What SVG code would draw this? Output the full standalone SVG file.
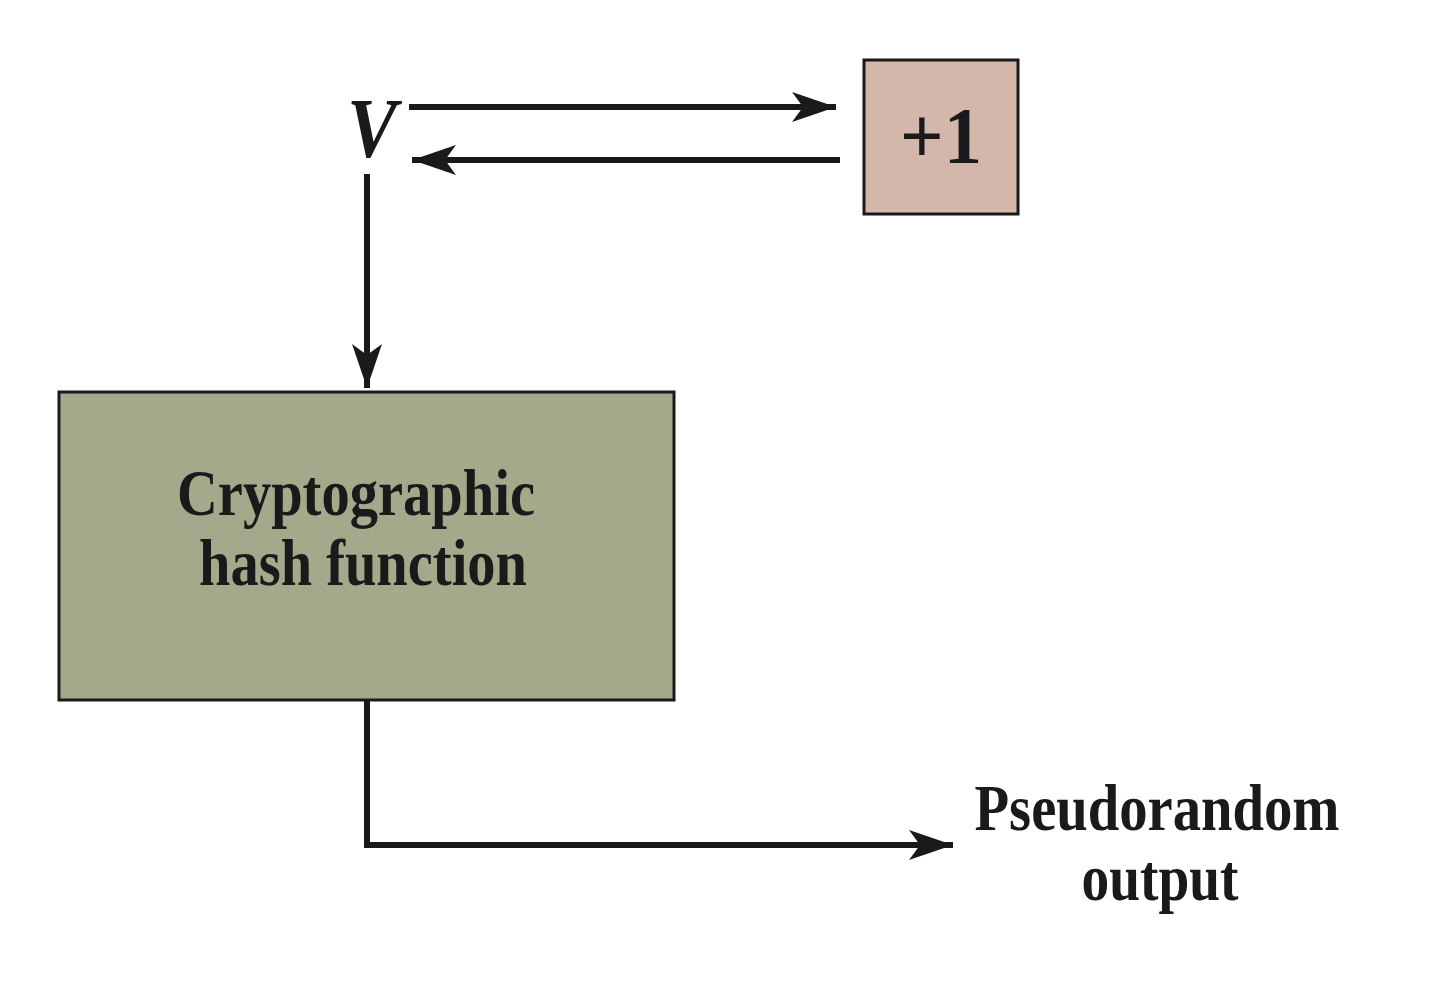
<svg xmlns="http://www.w3.org/2000/svg" width="1440" height="982" viewBox="0 0 1440 982">
<style>
.line{fill:none;stroke:#1a1a1a;stroke-width:6}
.box{stroke:#1a1a1a;stroke-width:3}
.t{font-family:"Liberation Serif","Times New Roman",serif;font-weight:bold;fill:#1a1a1a;text-anchor:middle}
</style>
<defs>
<marker id="ah" markerUnits="userSpaceOnUse" markerWidth="50" markerHeight="40" viewBox="-44 -20 50 40" refX="0" refY="0" orient="auto">
<path d="M0,0 L-44,-15 L-33,0 L-44,15 Z" fill="#1a1a1a"/>
</marker>
</defs>
<rect width="1440" height="982" fill="#ffffff"/>
<g id="connectors">
<path class="line" d="M409,107 L836,107" marker-end="url(#ah)"/>
<path class="line" d="M840,160 L412,160" marker-end="url(#ah)"/>
<path class="line" d="M367,174 L367,388" marker-end="url(#ah)"/>
<path class="line" d="M367,700 L367,845 L953,845" marker-end="url(#ah)"/>
</g>
<g id="v-label">
<text class="t" x="372" y="157" font-size="84" font-style="italic" textLength="50" lengthAdjust="spacingAndGlyphs">V</text>
</g>
<g id="plus-one">
<rect class="box" x="864" y="60" width="154" height="154" fill="#d4b6aa"/>
<text class="t" x="941" y="163" font-size="80" textLength="82" lengthAdjust="spacingAndGlyphs">+1</text>
</g>
<g id="hash">
<rect class="box" x="59" y="392" width="615" height="308" fill="#a5a98c"/>
<text class="t" x="356" y="515" font-size="66" textLength="358" lengthAdjust="spacingAndGlyphs">Cryptographic</text>
<text class="t" x="363" y="585" font-size="66" textLength="328" lengthAdjust="spacingAndGlyphs">hash function</text>
</g>
<g id="output-label">
<text class="t" x="1157" y="830" font-size="66" textLength="365" lengthAdjust="spacingAndGlyphs">Pseudorandom</text>
<text class="t" x="1160" y="900" font-size="66" textLength="157" lengthAdjust="spacingAndGlyphs">output</text>
</g>
</svg>
